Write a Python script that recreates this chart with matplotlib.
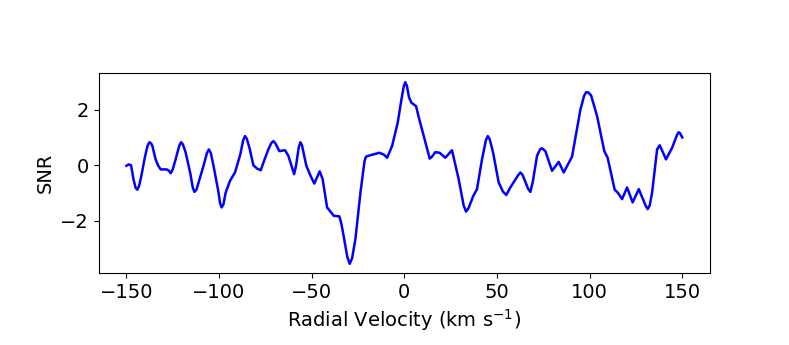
import matplotlib
matplotlib.use('Agg')
import matplotlib.pyplot as plt

# radial velocity grid (km/s) and SNR
velocity = [-150, -148.8, -147.5, -146.2, -145, -144.1, -143.2, -142, -140, -138.6,
            -137.6, -136.6, -136, -134.2, -132.8, -131.5, -128.3, -127, -126.1, -125,
            -123.5, -121.5, -120.5, -119.5, -118, -115.5, -114.2, -113.3, -112.2, -110.5,
            -108.4, -106.5, -105.5, -104.5, -103, -100.5, -99.4, -98.6, -97.6, -96.5,
            -94.1, -91.4, -88.5, -87, -86, -85, -83.5, -81.5, -79.5, -77.5,
            -75.5, -73.4, -71.8, -70.7, -69.5, -67.5, -64.4, -62.6, -59.5, -58.4,
            -57, -56.1, -55.2, -52.9, -50.5, -48.6, -47.2, -45.7, -44.1, -41.7,
            -38.1, -35.1, -34, -32.8, -30.8, -29.5, -28.2, -26.4, -23.7, -21.5,
            -20.7, -18.3, -13.5, -11, -9.3, -6.6, -3.6, -1.5, -0.3, 0.5,
            1.4, 2.5, 3.8, 6.3, 7.5, 9.5, 13.7, 14.8, 16.7, 19,
            22.1, 25.7, 29.3, 32, 33.3, 34.6, 37.1, 39.2, 41.9, 44,
            45, 46, 47.9, 50.9, 53.2, 55, 57.2, 61.5, 62.6, 63.8,
            66.8, 68, 69.3, 71.6, 73.3, 74.3, 76.1, 79.7, 83.3, 86,
            90.5, 95, 97, 98.1, 99.3, 100.8, 104, 107.9, 109.7, 113.5,
            115.1, 117.5, 120.2, 123.2, 126.5, 130.2, 131.3, 132.4, 133.7, 136.4,
            137.8, 139.3, 141.2, 144.5, 147.2, 148, 148.8, 150]
snr = [-0.02, 0.03, 0.0, -0.5, -0.82, -0.88, -0.75, -0.4, 0.3, 0.7,
       0.83, 0.78, 0.7, 0.2, -0.02, -0.15, -0.15, -0.2, -0.29, -0.15,
       0.2, 0.7, 0.83, 0.75, 0.45, -0.3, -0.8, -0.96, -0.88, -0.5,
       -0.02, 0.45, 0.57, 0.45, -0.02, -0.9, -1.38, -1.52, -1.4, -1.0,
       -0.56, -0.26, 0.4, 0.9, 1.05, 0.95, 0.6, 0.0, -0.12, -0.18,
       0.2, 0.57, 0.8, 0.87, 0.78, 0.51, 0.54, 0.34, -0.32, 0.0,
       0.65, 0.83, 0.7, -0.02, -0.4, -0.66, -0.45, -0.22, -0.5, -1.52,
       -1.82, -1.84, -2.1, -2.54, -3.3, -3.55, -3.35, -2.65, -0.98, 0.15,
       0.31, 0.36, 0.45, 0.38, 0.27, 0.7, 1.53, 2.4, 2.85, 2.99,
       2.85, 2.45, 2.25, 2.13, 1.8, 1.29, 0.24, 0.3, 0.47, 0.45,
       0.27, 0.54, -0.5, -1.45, -1.67, -1.55, -1.12, -0.86, 0.21, 0.9,
       1.05, 0.95, 0.45, -0.62, -0.95, -1.07, -0.8, -0.35, -0.26, -0.35,
       -0.85, -0.96, -0.6, 0.34, 0.58, 0.61, 0.51, -0.2, 0.12, -0.26,
       0.31, 2.0, 2.5, 2.63, 2.62, 2.51, 1.77, 0.51, 0.27, -0.88,
       -0.98, -1.22, -0.8, -1.34, -0.86, -1.45, -1.58, -1.45, -0.98, 0.57,
       0.72, 0.5, 0.21, 0.63, 1.1, 1.19, 1.15, 1.0]

fig = plt.figure(figsize=(7.89, 3.45), dpi=100)
ax = fig.add_axes([0.125, 0.209, 0.775, 0.579])
ax.plot(velocity, snr, color='blue', linewidth=1.8)
ax.set_xlabel('Radial Velocity (km s$^{-1}$)', fontsize=14)
ax.set_ylabel('SNR', fontsize=14)
ax.tick_params(labelsize=14)
ax.set_yticks([-2, 0, 2])

fig.savefig('out.png', dpi=100)
